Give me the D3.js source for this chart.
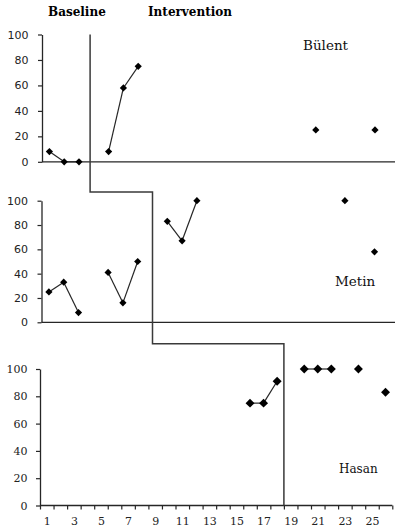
<!DOCTYPE html>
<html>
<head>
<meta charset="utf-8">
<script src="https://cdn.jsdelivr.net/npm/d3@7"></script>
<style>
  body { margin: 0; background: #fff; }
  svg { display: block; }
</style>
</head>
<body>
<div id="chart"></div>
<script>
// Data (session number, percent)
const yTicks = [0, 20, 40, 60, 80, 100];
const xTickLabels = [1, 3, 5, 7, 9, 11, 13, 15, 17, 19, 21, 23, 25];

const bulentSessions = [1, 2, 3, 5, 6, 7, 19, 23];
const bulentValues = [8, 0, 0, 8, 58, 75, 25, 25];

const metinSessions = [1, 2, 3, 5, 6, 7, 9, 10, 11, 21, 23];
const metinValues = [25, 33, 8, 41, 16, 50, 83, 67, 100, 100, 58];

const hasanSessions = [16, 17, 18, 20, 21, 22, 24, 26];
const hasanValues = [75, 75, 91, 100, 100, 100, 100, 83];

// phase change points, in each panel's own session scale
const phaseChanges = [3.75, 8, 18.5];

const width = 395, height = 532;

const svg = d3.select('#chart')
  .append('svg')
    .attr('width', width)
    .attr('height', height);

// panel layout (the three stacked Excel charts have slightly different plot areas)
const panels = [
  { name: 'Bülent', sessions: bulentSessions, values: bulentValues,
    left: 42, top: 34.5, bottom: 161.8, step: 14.8, right: 395,
    tickFont: 'DejaVu Sans', mark: 26, label: { x: 303, y: 50, size: 13.5 } },
  { name: 'Metin', sessions: metinSessions, values: metinValues,
    left: 41.5, top: 200.7, bottom: 322.3, step: 14.8, right: 395,
    tickFont: 'DejaVu Sans', mark: 26, label: { x: 335, y: 286, size: 13.5 } },
  { name: 'Hasan', sessions: hasanSessions, values: hasanValues,
    left: 40, top: 369, bottom: 505.5, step: 13.55, right: 392.3,
    tickFont: 'DejaVu Serif', mark: 40, label: { x: 339, y: 473, size: 12 } }
];

panels.forEach(function (p) {
  p.x = d3.scaleLinear().domain([0.5, 1.5]).range([p.left, p.left + p.step]);
  p.y = d3.scaleLinear().domain([0, 100]).range([p.bottom, p.top]);
});

const ink = '#262626';

panels.forEach(function (p, i) {
  const g = svg.append('g');

  // Y axis
  const yAxis = g.append('g')
    .attr('transform', 'translate(' + p.left + ',0)')
    .call(d3.axisLeft(p.y).tickValues(yTicks).tickSize(4)
      .tickPadding(i === 2 ? 8.5 : 9.5).tickSizeOuter(0));
  yAxis.select('.domain').attr('stroke', ink).attr('stroke-width', 1.3);
  yAxis.selectAll('.tick line').attr('stroke', ink).attr('stroke-width', 1.2);
  yAxis.selectAll('.tick text')
    .attr('fill', '#222')
    .style('font-family', p.tickFont)
    .style('font-size', '11px');

  // X axis line
  g.append('line')
    .attr('x1', p.left).attr('x2', p.right)
    .attr('y1', p.bottom).attr('y2', p.bottom)
    .attr('stroke', ink).attr('stroke-width', 1.3);

  // line segments between consecutive sessions
  const pts = p.sessions.map((s, k) => ({ s: s, v: p.values[k] }));
  const line = d3.line().x(d => p.x(d.s)).y(d => p.y(d.v));
  for (let k = 1; k < pts.length; k++) {
    if (pts[k].s - pts[k - 1].s === 1) {
      g.append('path')
        .attr('d', line([pts[k - 1], pts[k]]))
        .attr('fill', 'none')
        .attr('stroke', ink)
        .attr('stroke-width', 1.2);
    }
  }

  // diamond markers
  g.selectAll('.dot')
    .data(pts)
    .enter()
    .append('path')
      .attr('d', d3.symbol(d3.symbolSquare, p.mark))
      .attr('transform', d => 'translate(' + p.x(d.s) + ',' + p.y(d.v) + ') rotate(45)')
      .attr('fill', '#000');

  // participant name
  g.append('text')
    .attr('x', p.label.x)
    .attr('y', p.label.y)
    .style('font-family', 'DejaVu Serif')
    .style('font-size', p.label.size + 'px')
    .attr('fill', '#111')
    .text(p.name);
});

// bottom panel session axis
const p3 = panels[2];
const boundaries = d3.range(0.5, 27, 1);
const xTicks = svg.append('g')
  .attr('transform', 'translate(0,' + p3.bottom + ')')
  .call(d3.axisBottom(p3.x).tickValues(boundaries).tickSize(4).tickFormat(''));
xTicks.select('.domain').remove();
xTicks.selectAll('.tick line').attr('stroke', ink).attr('stroke-width', 1.2);

const xLabels = svg.append('g')
  .attr('transform', 'translate(0,' + p3.bottom + ')')
  .call(d3.axisBottom(p3.x).tickValues(xTickLabels).tickSize(0)
    .tickPadding(12).tickFormat(d3.format('d')));
xLabels.select('.domain').remove();
xLabels.selectAll('.tick text')
  .attr('fill', '#222')
  .style('font-family', 'DejaVu Serif')
  .style('font-size', '11px');

// phase change staircase
const stepY1 = 192, stepY2 = 343.7;
const px1 = panels[0].x(phaseChanges[0]);
const px2 = panels[1].x(phaseChanges[1]);
const px3 = panels[2].x(phaseChanges[2]);
const stair = d3.path();
stair.moveTo(px1, panels[0].top);
stair.lineTo(px1, stepY1);
stair.lineTo(px2, stepY1);
stair.lineTo(px2, stepY2);
stair.lineTo(px3, stepY2);
stair.lineTo(px3, p3.bottom);
svg.append('path')
  .attr('d', stair.toString())
  .attr('fill', 'none')
  .attr('stroke', '#3a3a3a')
  .attr('stroke-width', 1.5);

// phase titles
svg.append('text')
  .attr('x', 48).attr('y', 16)
  .style('font-family', 'DejaVu Serif')
  .style('font-weight', 'bold')
  .style('font-size', '12px')
  .attr('fill', '#000')
  .text('Baseline');
svg.append('text')
  .attr('x', 148).attr('y', 16)
  .style('font-family', 'DejaVu Serif')
  .style('font-weight', 'bold')
  .style('font-size', '12px')
  .attr('fill', '#000')
  .text('Intervention');
</script>
</body>
</html>
